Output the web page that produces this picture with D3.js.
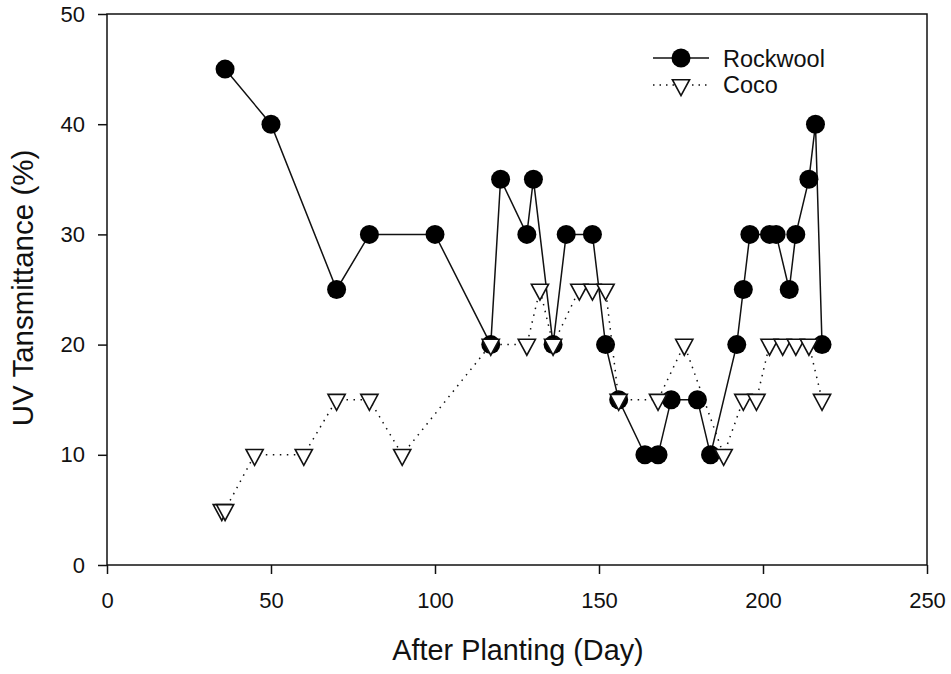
<!DOCTYPE html>
<html>
<head>
<meta charset="utf-8">
<script src="https://cdn.jsdelivr.net/npm/d3@7"></script>
<style>
  html, body { margin: 0; padding: 0; background: #fff; }
  svg { display: block; font-family: "Liberation Sans", Arial, sans-serif; }
</style>
</head>
<body>
<svg id="chart" width="951" height="674"></svg>
<script>
// UV transmittance measured over days after planting, two growing media
const rockwoolDays   = [36, 50, 70, 80, 100, 117, 120, 128, 130, 136, 140, 148, 152, 156, 164, 168, 172, 180, 184, 192, 194, 196, 202, 204, 208, 210, 214, 216, 218];
const rockwoolValues = [45, 40, 25, 30, 30, 20, 35, 30, 35, 20, 30, 30, 20, 15, 10, 10, 15, 15, 10, 20, 25, 30, 30, 30, 25, 30, 35, 40, 20];

const cocoDays   = [35, 36, 45, 60, 70, 80, 90, 117, 128, 132, 136, 144, 148, 152, 156, 168, 176, 188, 194, 198, 202, 206, 210, 214, 218];
const cocoValues = [5, 5, 10, 10, 15, 15, 10, 20, 20, 25, 20, 25, 25, 25, 15, 15, 20, 10, 15, 15, 20, 20, 20, 20, 15];

const xTicks = [0, 50, 100, 150, 200, 250];
const yTicks = [0, 10, 20, 30, 40, 50];
const seriesNames = ["Rockwool", "Coco"];
const xTitle = "After Planting (Day)";
const yTitle = "UV Tansmittance (%)";

const svg = d3.select("#chart");
const plotL = 107, plotR = 927, plotT = 14, plotB = 565;

const x = d3.scaleLinear().domain([0, 250]).range([plotL, plotR]);
const y = d3.scaleLinear().domain([0, 50]).range([plotB, plotT]);

const rockwool = rockwoolDays.map((d, i) => ({ day: d, v: rockwoolValues[i] }));
const coco = cocoDays.map((d, i) => ({ day: d, v: cocoValues[i] }));

// axes
const xAxis = svg.append("g")
  .attr("transform", `translate(0,${plotB})`)
  .call(d3.axisBottom(x).tickValues(xTicks).tickSize(9).tickSizeOuter(0).tickPadding(18));
const yAxis = svg.append("g")
  .attr("transform", `translate(${plotL},0)`)
  .call(d3.axisLeft(y).tickValues(yTicks).tickSize(9).tickSizeOuter(0).tickPadding(13));

[xAxis, yAxis].forEach(g => {
  g.select(".domain").remove();
  g.selectAll(".tick line").attr("stroke", "#111").attr("stroke-width", 1.5);
  g.selectAll(".tick text").attr("fill", "#111").style("font-size", "22px")
    .style("font-family", "'Liberation Sans', Arial, sans-serif");
});

// plot frame
svg.append("rect")
  .attr("x", plotL).attr("y", plotT)
  .attr("width", plotR - plotL).attr("height", plotB - plotT)
  .attr("fill", "none").attr("stroke", "#111").attr("stroke-width", 1.5);

// axis titles
svg.append("text")
  .attr("x", 518).attr("y", 660)
  .attr("text-anchor", "middle").attr("fill", "#111")
  .style("font-size", "28.8px")
  .text(xTitle);
svg.append("text")
  .attr("transform", "translate(33,288) rotate(-90)")
  .attr("text-anchor", "middle").attr("fill", "#111")
  .style("font-size", "29.5px")
  .text(yTitle);

const line = d3.line().x(d => x(d.day)).y(d => y(d.v));

// down-pointing triangle with its centroid at the origin
const triHW = 8.6, triUp = 5.3, triDown = 10.6;
const triPath = `M${-triHW},${-triUp} L${triHW},${-triUp} L0,${triDown} Z`;

// Rockwool: solid line, filled circles
svg.append("path").datum(rockwool)
  .attr("d", line).attr("fill", "none")
  .attr("stroke", "#111").attr("stroke-width", 1.5);
svg.append("g").selectAll("circle").data(rockwool).join("circle")
  .attr("cx", d => x(d.day)).attr("cy", d => y(d.v)).attr("r", 9.5)
  .attr("fill", "#000");

// Coco: dotted line, open triangles
svg.append("path").datum(coco)
  .attr("d", line).attr("fill", "none")
  .attr("stroke", "#111").attr("stroke-width", 1.5)
  .attr("stroke-dasharray", "1.5,5.5");
svg.append("g").selectAll("path").data(coco).join("path")
  .attr("transform", d => `translate(${x(d.day)},${y(d.v)})`)
  .attr("d", triPath)
  .attr("fill", "#fff").attr("stroke", "#111").attr("stroke-width", 1.6)
  .attr("stroke-linejoin", "miter");

// legend
const legend = svg.append("g");
const lgX0 = 653, lgX1 = 709, lgMid = 681, lgText = 723;
// Rockwool entry
legend.append("line").attr("x1", lgX0).attr("x2", lgX1).attr("y1", 58).attr("y2", 58)
  .attr("stroke", "#111").attr("stroke-width", 1.5);
legend.append("circle").attr("cx", lgMid).attr("cy", 58).attr("r", 9.5).attr("fill", "#000");
legend.append("text").attr("x", lgText).attr("y", 66.5).attr("fill", "#111")
  .style("font-size", "23.5px").text(seriesNames[0]);
// Coco entry
legend.append("line").attr("x1", lgX0).attr("x2", lgX1).attr("y1", 85).attr("y2", 85)
  .attr("stroke", "#111").attr("stroke-width", 1.5).attr("stroke-dasharray", "1.5,5");
legend.append("path").attr("transform", `translate(${lgMid},85)`).attr("d", triPath)
  .attr("fill", "#fff").attr("stroke", "#111").attr("stroke-width", 1.6);
legend.append("text").attr("x", lgText).attr("y", 93).attr("fill", "#111")
  .style("font-size", "23.5px").text(seriesNames[1]);
</script>
</body>
</html>
